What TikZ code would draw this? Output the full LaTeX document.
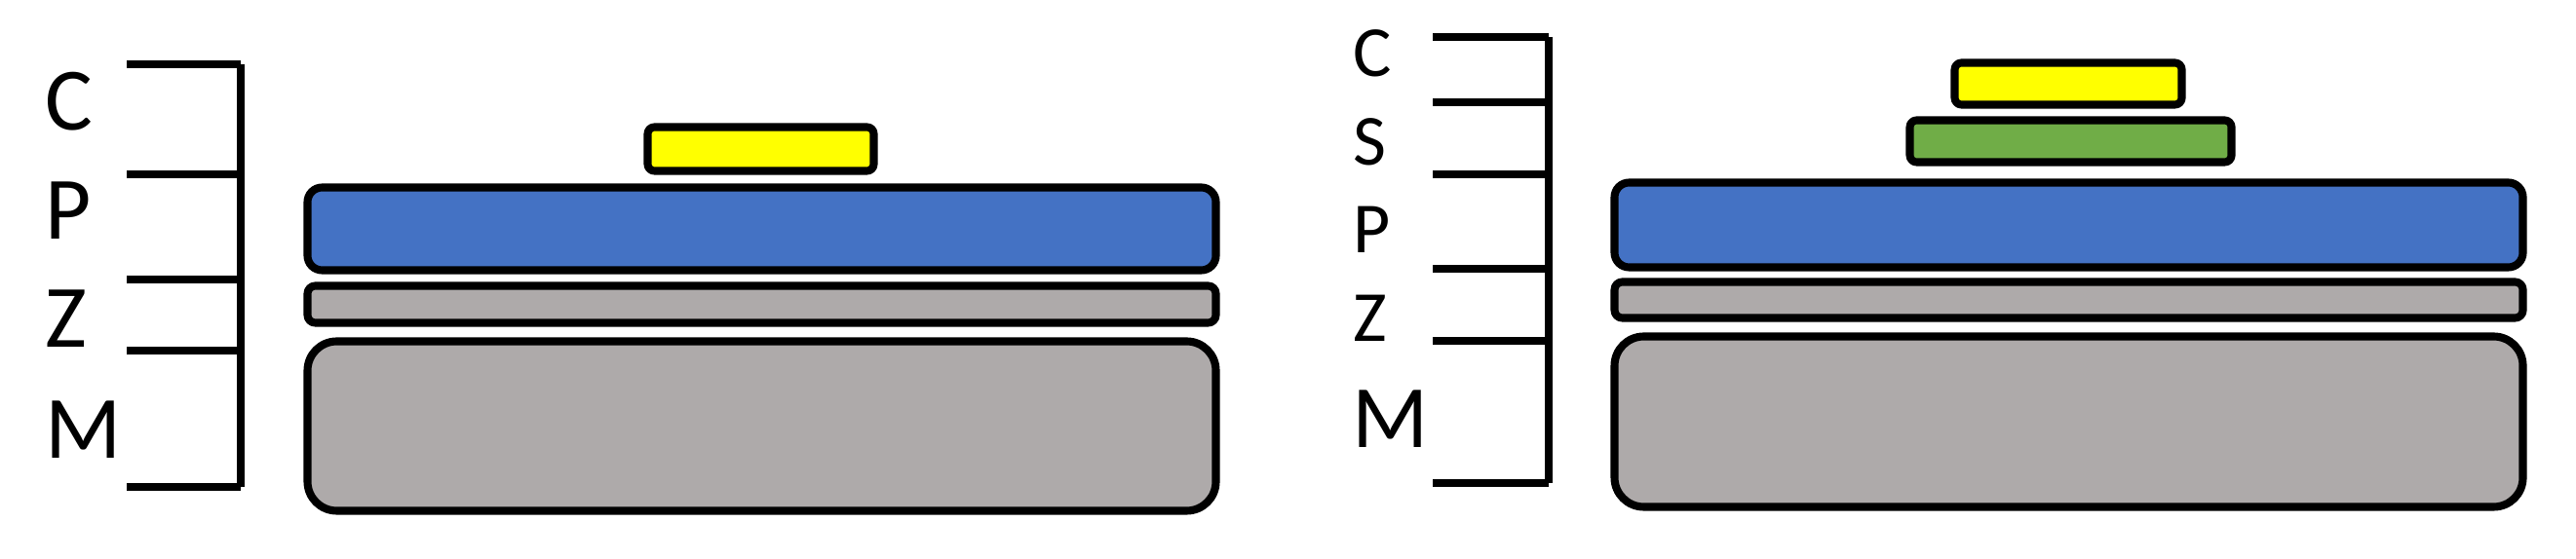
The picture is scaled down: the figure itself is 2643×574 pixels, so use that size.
\documentclass[tikz,border=0pt]{standalone}
\usepackage{fontspec}
\setmainfont{Carlito}
\usetikzlibrary{calc}

\definecolor{layerblue}{HTML}{4472C4}
\definecolor{layergray}{HTML}{AEAAAA}
\definecolor{layergreen}{HTML}{70AD47}
\definecolor{layeryellow}{HTML}{FFFF00}

\begin{document}
\begin{tikzpicture}[x=0.01cm, y=-0.01cm, line cap=butt, line join=round,
  layer/.style={draw=black, line width=2.3pt},
  tick/.style={line width=2.3pt},
  lab/.style={anchor=base west, inner sep=0pt, font=\fontsize{26}{26}\selectfont},
  smalllab/.style={lab, font=\fontsize{21}{21}\selectfont}]

\useasboundingbox (0,0) rectangle (2643,574);

% --- Left stack: bracket and labels ---
\draw[tick] (247,66) -- (247,500);
\foreach \y in {66,179,287,360,500}
  \draw[tick] (130,\y) -- (247,\y);
\node[lab] (lC) at (46,134) {C};
\node[lab] (lP) at (46,246) {P};
\node[lab] (lZ) at (46,357) {Z};
\node[lab] (lM) at (46,471) {M};

% --- Left stack: layers ---
\filldraw[layer, fill=layergray, rounded corners=0.3cm] (315.5,350.5) rectangle (1247.5,524.5);
\filldraw[layer, fill=layergray, rounded corners=0.08cm] (315.5,293.5) rectangle (1247.5,331.5);
\filldraw[layer, fill=layerblue, rounded corners=0.15cm] (315.5,192.5) rectangle (1247.5,277.5);
\filldraw[layer, fill=layeryellow, rounded corners=0.07cm] (664.5,130.5) rectangle (896.5,175.5);

% --- Right stack: bracket and labels ---
\draw[tick] (1589,38) -- (1589,496);
\foreach \y in {38,105,179,276,350,496}
  \draw[tick] (1470,\y) -- (1589,\y);
\node[smalllab] (rC) at (1388,79) {C};
\node[smalllab] (rS) at (1388,170) {S};
\node[smalllab] (rP) at (1388,260) {P};
\node[smalllab] (rZ) at (1388,351) {Z};
\node[lab] (rM) at (1387,460) {M};

% --- Right stack: layers ---
\filldraw[layer, fill=layergray, rounded corners=0.3cm] (1656.5,345.5) rectangle (2588.5,520.5);
\filldraw[layer, fill=layergray, rounded corners=0.08cm] (1656.5,289.5) rectangle (2588.5,326.5);
\filldraw[layer, fill=layerblue, rounded corners=0.15cm] (1656.5,187.5) rectangle (2588.5,274.5);
\filldraw[layer, fill=layergreen, rounded corners=0.07cm] (1959.5,123.5) rectangle (2289.5,166.5);
\filldraw[layer, fill=layeryellow, rounded corners=0.07cm] (2005.5,64.5) rectangle (2238.5,107.5);

\end{tikzpicture}
\end{document}
